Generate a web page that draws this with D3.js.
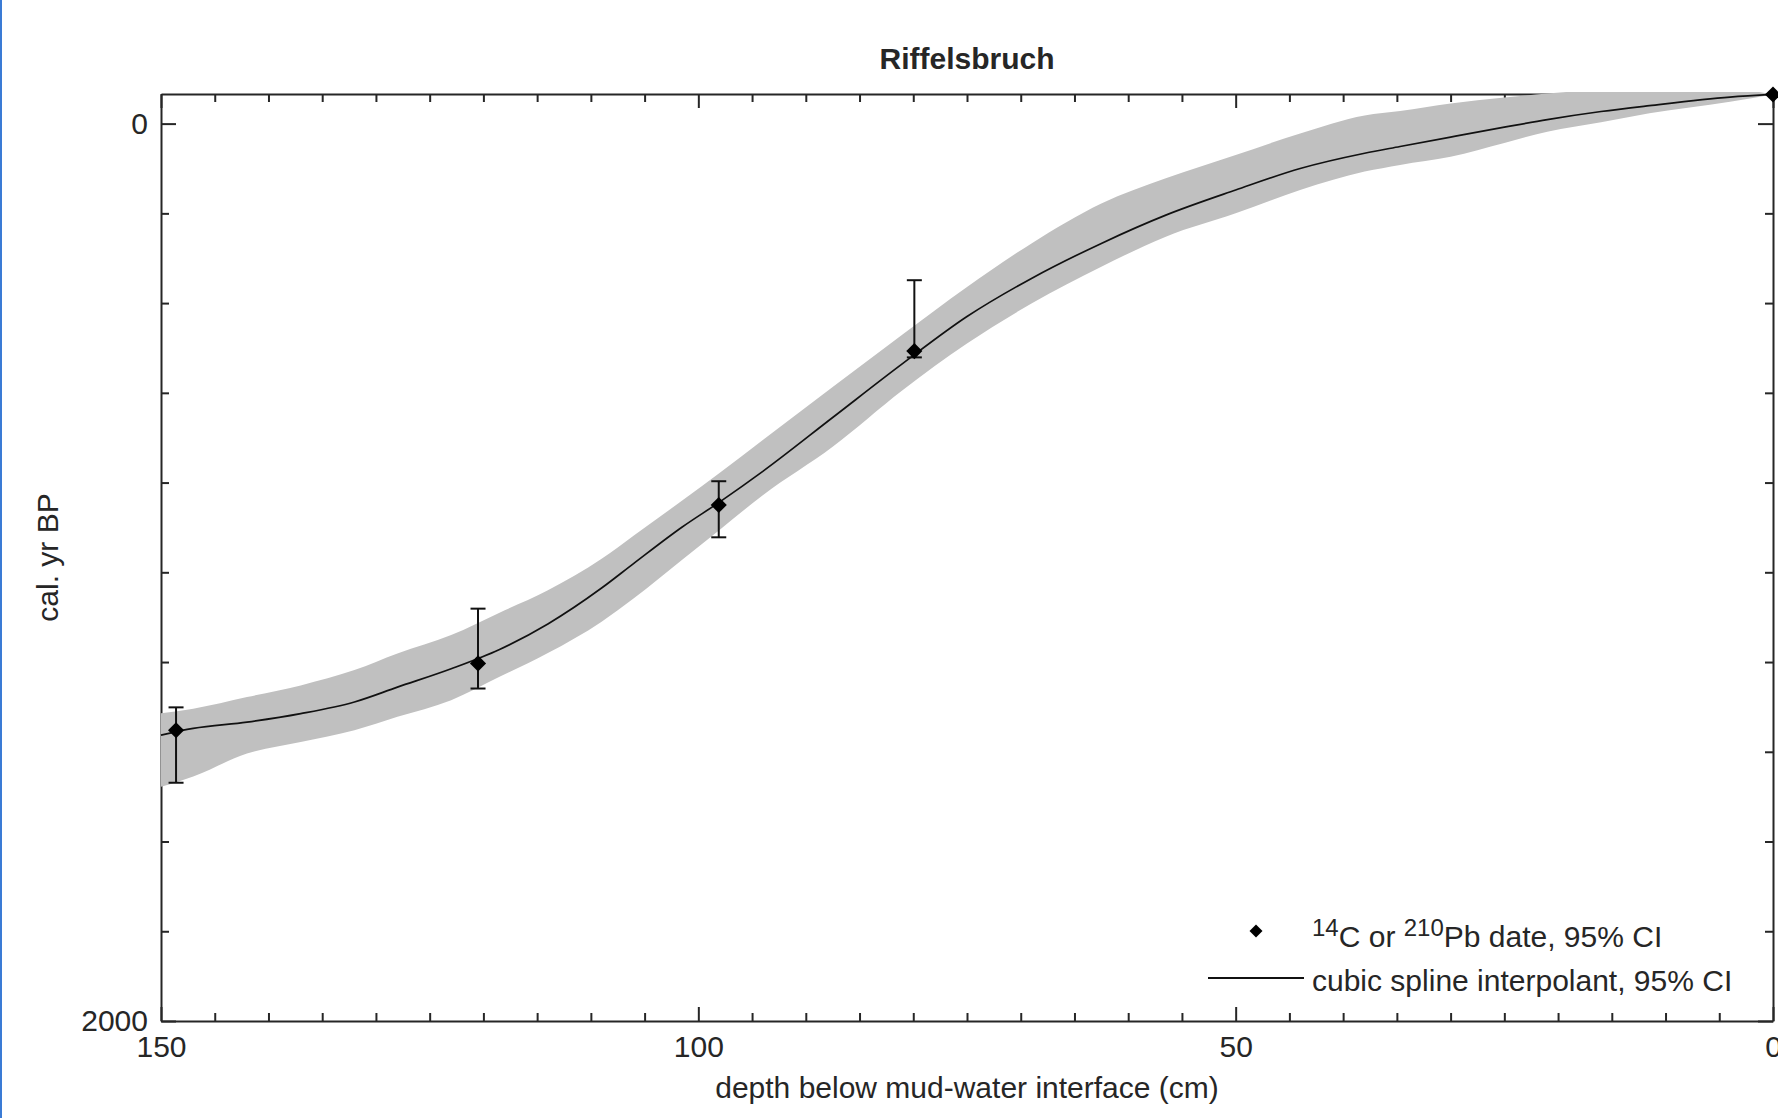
<!DOCTYPE html>
<html>
<head>
<meta charset="utf-8">
<script src="https://cdn.jsdelivr.net/npm/d3@7"></script>
<style>
  body { margin: 0; background: #fff; }
  text { font-family: "Liberation Sans", Arial, sans-serif; }
</style>
</head>
<body>
<div id="chart"></div>
<script>
// spline median and 95% band (depth cm, cal. yr BP)
var depthCm   = [150, 147, 142, 137, 132, 128, 123, 118.5, 114, 109, 106, 101.5, 98, 94, 87.5, 81, 75, 69, 62.5, 56.5, 50, 44, 38, 34.7, 30, 25, 21, 16, 11.5, 4, 0];
var medianAge = [1363, 1348, 1334, 1315, 1289, 1256, 1215, 1172, 1115, 1035, 980, 899, 843, 775, 655, 535, 430, 345, 267, 204, 148, 100, 66, 51, 30, 8, -9, -27, -40, -59, -65];
var lowerAge  = [1314, 1304, 1278, 1252, 1218, 1181, 1140, 1090, 1040, 970, 918, 840, 778, 705, 587, 470, 364, 267, 178, 122, 70, 22, -18, -28, -45, -58, -67, -76, -82, -78, -65];
var upperAge  = [1478, 1455, 1404, 1378, 1352, 1322, 1285, 1233, 1180, 1110, 1058, 972, 905, 828, 720, 594, 490, 401, 319, 252, 200, 148, 107, 92, 74, 43, 18, -3, -23, -49, -65];

// 14C / 210Pb dates with 95% CI
var dateDepth = [148.6, 120.5, 98.1, 79.9, 0];
var dateAge   = [1352, 1203, 850, 507, -65];
var dateLo    = [1301, 1081, 797, 349, -65];
var dateHi    = [1469, 1259, 922, 521, -65];

var xTicks = d3.range(0, 151, 5);
var yTicks = d3.range(0, 2001, 200);
var xLabelled = [150, 100, 50, 0];
var yLabelled = [0, 2000];

var W = 1778, H = 1118;
var plot = {left: 161, right: 1773, top: 94, bottom: 1021};
var ink = "#262626";

var svg = d3.select("#chart")
  .append("svg")
    .attr("width", W)
    .attr("height", H);

svg.append("rect")
  .attr("x", 0).attr("y", 0)
  .attr("width", 2).attr("height", H)
  .attr("fill", "#3a7bd5");

var x = d3.scaleLinear()
  .domain([150, 0])
  .range([plot.left, plot.right]);

var y = d3.scaleLinear()
  .domain([-66, 2000])
  .range([plot.top, plot.bottom]);

function styleAxis(g) {
  g.attr("font-size", 30)
   .attr("font-family", "'Liberation Sans', Arial, sans-serif")
   .style("color", ink);
  g.select(".domain").attr("stroke-width", 2);
  g.selectAll(".tick line").attr("stroke-width", 2);
}

var fmtX = function(d) { return xLabelled.indexOf(d) >= 0 ? d : ""; };
var fmtY = function(d) { return yLabelled.indexOf(d) >= 0 ? d : ""; };

var gBottom = svg.append("g")
  .attr("transform", "translate(0," + plot.bottom + ")")
  .call(d3.axisBottom(x).tickValues(xTicks).tickSizeInner(-8).tickSizeOuter(0).tickPadding(15).tickFormat(fmtX))
  .call(styleAxis);
gBottom.selectAll(".tick").filter(function(d) { return d % 50 == 0; })
  .select("line").attr("y2", -14);

var gTop = svg.append("g")
  .attr("transform", "translate(0," + plot.top + ")")
  .call(d3.axisTop(x).tickValues(xTicks).tickSizeInner(-8).tickSizeOuter(0).tickFormat(""))
  .call(styleAxis);
gTop.selectAll(".tick").filter(function(d) { return d % 50 == 0; })
  .select("line").attr("y2", 14);

var gLeft = svg.append("g")
  .attr("transform", "translate(" + plot.left + ",0)")
  .call(d3.axisLeft(y).tickValues(yTicks).tickSizeInner(-8).tickSizeOuter(0).tickPadding(13).tickFormat(fmtY))
  .call(styleAxis);
gLeft.selectAll(".tick").filter(function(d) { return yLabelled.indexOf(d) >= 0; })
  .select("line").attr("x2", 15);

var gRight = svg.append("g")
  .attr("transform", "translate(" + plot.right + ",0)")
  .call(d3.axisRight(y).tickValues(yTicks).tickSizeInner(-8).tickSizeOuter(0).tickFormat(""))
  .call(styleAxis);
gRight.selectAll(".tick").filter(function(d) { return yLabelled.indexOf(d) >= 0; })
  .select("line").attr("x2", -15);

svg.append("clipPath")
  .attr("id", "clip")
  .append("rect")
    .attr("x", plot.left - 2)
    .attr("y", plot.top - 2)
    .attr("width", plot.right - plot.left + 2)
    .attr("height", plot.bottom - plot.top + 4);

var spline = depthCm.map(function(d, i) {
  return {depth: d, age: medianAge[i], lo: lowerAge[i], hi: upperAge[i]};
});

svg.append("path")
  .datum(spline)
  .attr("clip-path", "url(#clip)")
  .attr("fill", "#c0c0c0")
  .attr("d", d3.area()
    .x(function(d) { return x(d.depth); })
    .y0(function(d) { return y(d.hi); })
    .y1(function(d) { return y(d.lo); })
    .curve(d3.curveMonotoneX));

svg.append("path")
  .datum(spline)
  .attr("clip-path", "url(#clip)")
  .attr("fill", "none")
  .attr("stroke", "#111")
  .attr("stroke-width", 1.7)
  .attr("d", d3.line()
    .x(function(d) { return x(d.depth); })
    .y(function(d) { return y(d.age); })
    .curve(d3.curveMonotoneX));

var dates = dateDepth.map(function(d, i) {
  return {depth: d, age: dateAge[i], lo: dateLo[i], hi: dateHi[i]};
});

var bars = svg.append("g")
  .attr("stroke", "#111")
  .attr("stroke-width", 2)
  .selectAll("g")
  .data(dates.filter(function(d) { return d.hi > d.lo; }))
  .enter()
  .append("g");

bars.append("line")
  .attr("x1", function(d) { return x(d.depth); })
  .attr("x2", function(d) { return x(d.depth); })
  .attr("y1", function(d) { return y(d.lo); })
  .attr("y2", function(d) { return y(d.hi); });
bars.append("line")
  .attr("x1", function(d) { return x(d.depth) - 7.5; })
  .attr("x2", function(d) { return x(d.depth) + 7.5; })
  .attr("y1", function(d) { return y(d.lo); })
  .attr("y2", function(d) { return y(d.lo); });
bars.append("line")
  .attr("x1", function(d) { return x(d.depth) - 7.5; })
  .attr("x2", function(d) { return x(d.depth) + 7.5; })
  .attr("y1", function(d) { return y(d.hi); })
  .attr("y2", function(d) { return y(d.hi); });

var diamond = d3.symbol().type(d3.symbolSquare).size(130);

svg.selectAll(".date")
  .data(dates)
  .enter()
  .append("path")
    .attr("class", "date")
    .attr("d", diamond)
    .attr("fill", "#000")
    .attr("transform", function(d) { return "translate(" + x(d.depth) + "," + y(d.age) + ") rotate(45)"; });

// legend
svg.append("path")
  .attr("d", d3.symbol().type(d3.symbolSquare).size(85))
  .attr("fill", "#000")
  .attr("transform", "translate(1256,931) rotate(45)");

var t1 = svg.append("text")
  .attr("x", 1312)
  .attr("y", 947)
  .attr("font-size", 30)
  .attr("fill", ink);
t1.append("tspan").attr("font-size", 24).attr("dy", -11).text("14");
t1.append("tspan").attr("dy", 11).text("C or ");
t1.append("tspan").attr("font-size", 24).attr("dy", -11).text("210");
t1.append("tspan").attr("dy", 11).text("Pb date, 95% CI");

svg.append("line")
  .attr("x1", 1208).attr("x2", 1304)
  .attr("y1", 978).attr("y2", 978)
  .attr("stroke", "#111")
  .attr("stroke-width", 2);

svg.append("text")
  .attr("x", 1312)
  .attr("y", 991)
  .attr("font-size", 30)
  .attr("fill", ink)
  .text("cubic spline interpolant, 95% CI");

// titles
svg.append("text")
  .attr("x", (plot.left + plot.right) / 2)
  .attr("y", 69)
  .attr("text-anchor", "middle")
  .attr("font-size", 30)
  .attr("font-weight", "bold")
  .attr("fill", ink)
  .text("Riffelsbruch");

svg.append("text")
  .attr("x", (plot.left + plot.right) / 2)
  .attr("y", 1098)
  .attr("text-anchor", "middle")
  .attr("font-size", 30)
  .attr("fill", ink)
  .text("depth below mud-water interface (cm)");

svg.append("text")
  .attr("transform", "translate(58," + (plot.top + plot.bottom) / 2 + ") rotate(-90)")
  .attr("text-anchor", "middle")
  .attr("font-size", 30)
  .attr("fill", ink)
  .text("cal. yr BP");
</script>
</body>
</html>
